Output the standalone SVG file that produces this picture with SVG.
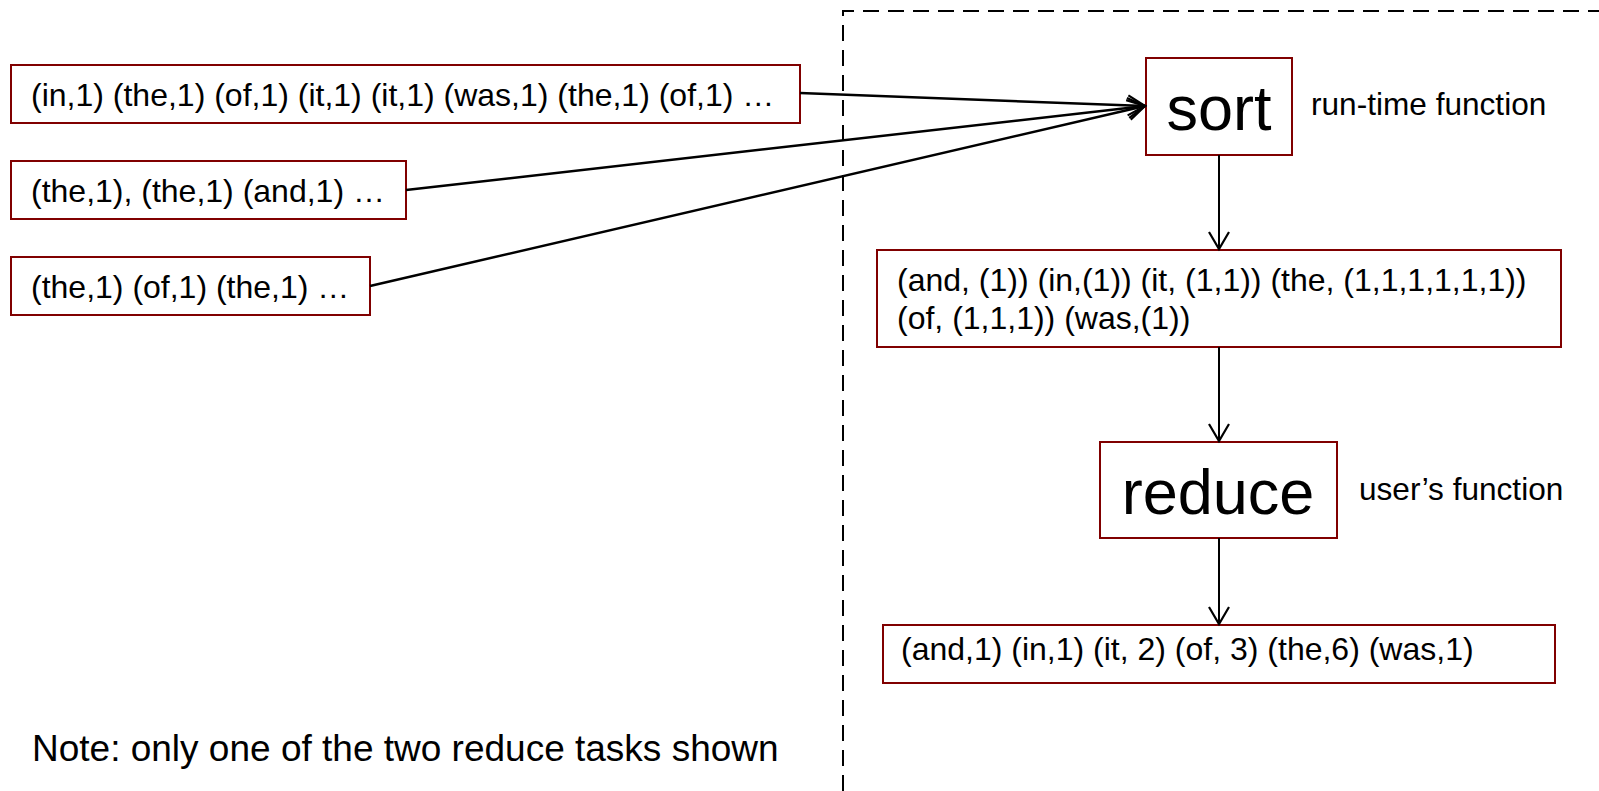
<svg xmlns="http://www.w3.org/2000/svg" width="1599" height="791" viewBox="0 0 1599 791">
  <defs>
    <style>
      .box { fill: #ffffff; stroke: #800000; stroke-width: 2; }
      .txt { font-family: "Liberation Sans", Arial, sans-serif; fill: #000000; font-size: 32px; }
      .big { font-family: "Liberation Sans", Arial, sans-serif; fill: #000000; font-size: 63px; }
      .note { font-family: "Liberation Sans", Arial, sans-serif; fill: #000000; font-size: 37px; }
      .edge { fill: none; stroke: #000000; }
      .thick { stroke-width: 2.5; }
      .thin { stroke-width: 2; }
      .frame { fill: none; stroke: #000000; stroke-width: 2; stroke-dasharray: 16 9; }
    </style>
    <marker id="open-arrow" markerUnits="userSpaceOnUse" markerWidth="22" markerHeight="26" refX="19" refY="13" orient="auto" overflow="visible">
      <path d="M2,3 L19,13 L2,23" fill="none" stroke="#000000" stroke-width="2.2"/>
    </marker>
  </defs>

  <rect width="1599" height="791" fill="#ffffff"/>

  <!-- boundary of the reduce task -->
  <path class="frame" d="M843,791 V11 H1599"/>

  <!-- map outputs -->
  <g id="map-out-1">
    <rect class="box" x="11" y="65" width="789" height="58"/>
    <text class="txt" x="31" y="106">(in,1) (the,1) (of,1) (it,1) (it,1) (was,1) (the,1) (of,1) …</text>
  </g>
  <g id="map-out-2">
    <rect class="box" x="11" y="161" width="395" height="58"/>
    <text class="txt" x="31" y="202">(the,1), (the,1) (and,1) …</text>
  </g>
  <g id="map-out-3">
    <rect class="box" x="11" y="257" width="359" height="58"/>
    <text class="txt" x="31" y="298">(the,1) (of,1) (the,1) …</text>
  </g>

  <!-- sort step -->
  <g id="sort">
    <rect class="box" x="1146" y="58" width="146" height="97"/>
    <text class="big" x="1219" y="130" text-anchor="middle">sort</text>
  </g>
  <text id="sort-label" class="txt" x="1311" y="115" style="font-size:31.6px">run-time function</text>

  <!-- grouped values -->
  <g id="grouped">
    <rect class="box" x="877" y="250" width="684" height="97"/>
    <text class="txt" x="897" y="291">(and, (1)) (in,(1)) (it, (1,1)) (the, (1,1,1,1,1,1))</text>
    <text class="txt" x="897" y="329">(of, (1,1,1)) (was,(1))</text>
  </g>

  <!-- reduce step -->
  <g id="reduce">
    <rect class="box" x="1100" y="442" width="237" height="96"/>
    <text class="big" x="1218" y="514" text-anchor="middle">reduce</text>
  </g>
  <text id="reduce-label" class="txt" x="1359" y="500" style="font-size:31.6px">user’s function</text>

  <!-- final counts -->
  <g id="result">
    <rect class="box" x="883" y="625" width="672" height="58"/>
    <text class="txt" x="901" y="660">(and,1) (in,1) (it, 2) (of, 3) (the,6) (was,1)</text>
  </g>

  <text id="note" class="note" x="32" y="761">Note: only one of the two reduce tasks shown</text>

  <!-- connectors -->
  <g id="connectors">
    <line class="edge thick" x1="800" y1="93" x2="1145" y2="106" marker-end="url(#open-arrow)"/>
    <line class="edge thick" x1="406" y1="190" x2="1145" y2="106" marker-end="url(#open-arrow)"/>
    <line class="edge thick" x1="370" y1="286" x2="1145" y2="106" marker-end="url(#open-arrow)"/>
    <line class="edge thin" x1="1219" y1="155" x2="1219" y2="249" marker-end="url(#open-arrow)"/>
    <line class="edge thin" x1="1219" y1="347" x2="1219" y2="441" marker-end="url(#open-arrow)"/>
    <line class="edge thin" x1="1219" y1="538" x2="1219" y2="624" marker-end="url(#open-arrow)"/>
  </g>
</svg>
